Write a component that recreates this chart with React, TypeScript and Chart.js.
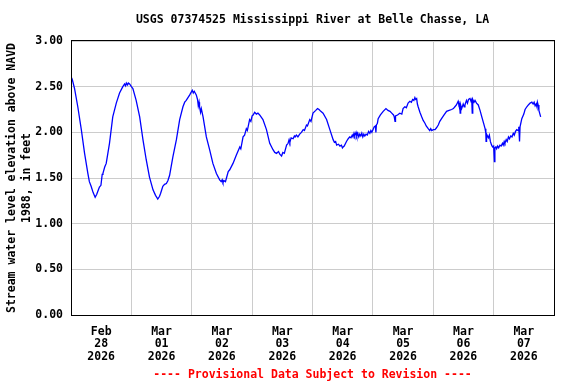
import React, { useEffect, useRef } from "react";
import { Chart, registerables } from "chart.js";

Chart.register(...registerables);

const chartTitle = "USGS 07374525 Mississippi River at Belle Chasse, LA";
const footerText = "---- Provisional Data Subject to Revision ----";
const yAxisTitle = ["Stream water level elevation above NAVD", "1988, in feet"];

const dayMonths = ["Feb", "Mar", "Mar", "Mar", "Mar", "Mar", "Mar", "Mar"];
const dayNumbers = ["28", "01", "02", "03", "04", "05", "06", "07"];
const dayYears = ["2026", "2026", "2026", "2026", "2026", "2026", "2026", "2026"];

// hours since Feb 28 2026 00:00
const hours = [
  0.0, 0.5, 1.4, 2.7, 4.1, 5.4, 6.7, 7.3, 8.0, 8.8, 9.6, 10.2, 10.6, 11.3, 11.9, 12.4, 12.7, 13.4, 14.0, 15.3,
  16.6, 18.0, 19.3, 20.6, 21.3, 21.7, 22.0, 22.5, 22.8, 23.3, 24.0, 24.6, 25.9, 27.3, 28.6, 29.9, 31.2, 32.6, 33.6, 34.5,
  35.2, 35.6, 36.5, 37.2, 37.9, 38.5, 39.2, 40.5, 41.9, 43.2, 44.5, 45.2, 45.8, 46.5, 47.2, 47.8, 48.2, 48.6, 49.0, 49.8,
  50.3, 50.6, 50.9, 51.1, 51.5, 51.8, 52.5, 53.8, 55.1, 56.4, 57.8, 59.1, 59.7, 60.1, 60.4, 60.9, 61.4, 61.8, 62.5, 63.1,
  64.4, 65.7, 67.1, 67.5, 68.4, 69.0, 69.7, 70.1, 71.0, 71.5, 72.0, 72.4, 73.0, 73.7, 74.3, 75.0, 76.3, 77.7, 79.0, 80.3,
  81.0, 81.7, 82.5, 83.0, 83.7, 84.2, 84.8, 85.7, 86.3, 86.7, 87.0, 87.5, 88.3, 88.8, 89.1, 89.6, 90.2, 90.9, 91.6, 92.3,
  92.8, 93.6, 94.0, 94.9, 95.4, 96.2, 97.3, 98.0, 98.6, 99.3, 100.2, 101.6, 102.9, 104.2, 104.7, 105.2, 105.6, 106.3, 106.9, 107.5,
  107.9, 108.2, 108.6, 109.5, 110.2, 110.8, 111.3, 111.8, 112.1, 112.5, 112.8, 113.3, 113.6, 114.0, 114.4, 114.8, 115.2, 115.6, 116.0, 116.4,
  116.8, 117.3, 117.8, 118.3, 118.8, 119.2, 119.6, 120.2, 120.5, 121.0, 121.2, 121.4, 121.8, 122.1, 123.0, 124.1, 125.2, 126.0, 126.8, 127.5,
  128.2, 128.5, 128.8, 129.0, 129.8, 130.7, 131.5, 132.0, 132.7, 133.3, 134.0, 134.7, 135.3, 135.8, 136.3, 136.7, 137.0, 137.4, 137.7, 138.0,
  138.7, 139.4, 140.0, 140.7, 141.2, 142.0, 142.6, 143.0, 143.4, 144.0, 144.7, 145.3, 146.0, 146.6, 147.3, 148.3, 149.3, 150.3, 151.3, 152.0,
  152.6, 153.2, 153.9, 154.2, 154.5, 154.7, 154.9, 155.3, 155.9, 156.3, 156.6, 157.2, 157.6, 158.0, 158.6, 159.0, 159.3, 159.5, 159.7, 160.2,
  160.6, 161.2, 161.9, 162.6, 163.3, 164.0, 164.6, 164.9, 165.0, 165.2, 165.9, 166.3, 166.7, 167.2, 167.6, 168.0, 168.3, 168.5, 168.9, 169.2,
  169.6, 170.0, 170.5, 171.0, 171.5, 171.8, 172.2, 172.5, 173.0, 173.4, 173.9, 174.3, 174.8, 175.3, 175.8, 176.2, 176.7, 177.2, 177.8, 178.0,
  178.3, 178.5, 179.2, 180.0, 180.5, 181.2, 181.8, 182.5, 183.2, 183.7, 184.1, 184.5, 184.9, 185.2, 185.4, 185.7, 186.0, 186.7,
];

// stage, feet above NAVD 1988
const stage = [
  2.61, 2.58, 2.48, 2.28, 2.03, 1.77, 1.55, 1.46, 1.41, 1.34, 1.29, 1.32, 1.35, 1.40, 1.42, 1.54, 1.55, 1.62, 1.66, 1.88,
  2.17, 2.32, 2.43, 2.50, 2.53, 2.51, 2.54, 2.52, 2.54, 2.53, 2.50, 2.48, 2.35, 2.17, 1.92, 1.70, 1.51, 1.37, 1.31, 1.27,
  1.30, 1.33, 1.41, 1.43, 1.44, 1.47, 1.53, 1.73, 1.92, 2.14, 2.28, 2.33, 2.35, 2.38, 2.41, 2.44, 2.46, 2.43, 2.45, 2.41,
  2.36, 2.29, 2.33, 2.28, 2.22, 2.26, 2.17, 1.95, 1.81, 1.66, 1.55, 1.48, 1.46, 1.48, 1.45, 1.47, 1.46, 1.50, 1.57, 1.59,
  1.66, 1.75, 1.84, 1.82, 1.95, 1.97, 2.04, 2.02, 2.14, 2.12, 2.18, 2.19, 2.22, 2.20, 2.21, 2.19, 2.14, 2.03, 1.88, 1.81,
  1.78, 1.77, 1.79, 1.76, 1.74, 1.78, 1.77, 1.86, 1.88, 1.92, 1.89, 1.94, 1.93, 1.96, 1.95, 1.97, 1.95, 1.98, 2.00, 2.03,
  2.02, 2.08, 2.07, 2.14, 2.12, 2.21, 2.24, 2.26, 2.25, 2.23, 2.21, 2.14, 2.03, 1.92, 1.89, 1.90, 1.86, 1.87, 1.85, 1.86,
  1.83, 1.84, 1.85, 1.90, 1.93, 1.95, 1.94, 1.97, 1.95, 1.99, 1.96, 2.00, 1.96, 1.99, 1.95, 1.98, 1.96, 1.99, 1.95, 1.98,
  1.96, 1.98, 1.97, 2.01, 1.99, 2.02, 2.00, 2.04, 2.06, 2.07, 2.00, 2.08, 2.10, 2.15, 2.19, 2.23, 2.26, 2.24, 2.23, 2.21,
  2.19, 2.17, 2.12, 2.18, 2.19, 2.21, 2.20, 2.26, 2.28, 2.27, 2.32, 2.34, 2.33, 2.36, 2.35, 2.38, 2.36, 2.37, 2.31, 2.28,
  2.22, 2.17, 2.13, 2.10, 2.07, 2.04, 2.02, 2.04, 2.02, 2.03, 2.03, 2.05, 2.08, 2.12, 2.15, 2.19, 2.23, 2.24, 2.25, 2.26,
  2.28, 2.30, 2.34, 2.30, 2.31, 2.21, 2.30, 2.26, 2.31, 2.28, 2.30, 2.35, 2.32, 2.36, 2.37, 2.34, 2.36, 2.21, 2.36, 2.33,
  2.35, 2.32, 2.30, 2.24, 2.17, 2.10, 2.04, 1.99, 1.90, 1.98, 1.94, 1.97, 1.90, 1.86, 1.84, 1.85, 1.68, 1.83, 1.84, 1.82,
  1.85, 1.83, 1.86, 1.85, 1.88, 1.86, 1.90, 1.88, 1.92, 1.90, 1.95, 1.93, 1.96, 1.95, 1.99, 1.97, 2.01, 2.03, 2.02, 2.06,
  1.90, 2.06, 2.15, 2.20, 2.25, 2.28, 2.30, 2.32, 2.33, 2.31, 2.33, 2.29, 2.31, 2.28, 2.33, 2.30, 2.24, 2.17,
];

const yTicks = [0, 0.5, 1, 1.5, 2, 2.5, 3];

const FONT_FAMILY = "'DejaVu Sans Mono', monospace";

export default function App() {
  const canvasRef = useRef<HTMLCanvasElement | null>(null);

  useEffect(() => {
    const canvas = canvasRef.current;
    if (!canvas) return;

    const textPlugin = {
      id: "usgsText",
      afterDraw(chart: any) {
        const { ctx, chartArea } = chart;
        const cx = (chartArea.left + chartArea.right) / 2;
        ctx.save();
        ctx.strokeStyle = "#000000";
        ctx.lineWidth = 1;
        ctx.strokeRect(
          Math.round(chartArea.left) + 0.5,
          Math.round(chartArea.top) - 0.5,
          Math.round(chartArea.right - chartArea.left),
          Math.round(chartArea.bottom - chartArea.top) + 1
        );
        ctx.font = `bold 11.5px ${FONT_FAMILY}`;
        ctx.textAlign = "center";
        ctx.textBaseline = "middle";
        ctx.fillStyle = "#000000";
        ctx.fillText(chartTitle, cx, 20.5);
        ctx.fillStyle = "#ff0000";
        ctx.fillText(footerText, cx, 375.5);
        ctx.restore();
      },
    };

    const chart = new Chart(canvas, {
      type: "line",
      data: {
        datasets: [
          {
            data: hours.map((h, i) => ({ x: h, y: stage[i] })),
            borderColor: "#0000ff",
            borderWidth: 1.3,
            pointRadius: 0,
            tension: 0,
            fill: false,
          },
        ],
      },
      options: {
        animation: false,
        responsive: false,
        events: [],
        layout: { padding: { top: 41, right: 22, left: 0, bottom: 0 } },
        plugins: {
          legend: { display: false },
          tooltip: { enabled: false },
          title: { display: false },
        },
        scales: {
          x: {
            type: "linear",
            min: 0,
            max: 192,
            afterBuildTicks(scale: any) {
              const t: any[] = [];
              for (let v = 12; v < 192; v += 12) t.push({ value: v });
              scale.ticks = t;
            },
            afterFit(scale: any) {
              scale.height = 69;
            },
            grid: {
              drawTicks: false,
              color: (c: any) =>
                c.tick && c.tick.value % 24 === 0 ? "#cccccc" : "rgba(0,0,0,0)",
              lineWidth: 1,
            },
            border: { display: false },
            ticks: {
              autoSkip: false,
              maxRotation: 0,
              padding: 10.5,
              color: "#000000",
              font: { family: FONT_FAMILY, size: 11.5, weight: "bold", lineHeight: 1.1 },
              callback: (value: any) => {
                const v = Number(value);
                if (v % 24 !== 12) return "";
                const i = Math.floor(v / 24);
                return [dayMonths[i], dayNumbers[i], dayYears[i]];
              },
            },
          },
          y: {
            min: 0,
            max: 3,
            afterBuildTicks(scale: any) {
              scale.ticks = yTicks.map((v) => ({ value: v }));
            },
            afterFit(scale: any) {
              scale.width = 71;
            },
            grid: { drawTicks: false, color: "#cccccc", lineWidth: 1 },
            border: { display: false },
            ticks: {
              padding: 8,
              color: "#000000",
              font: { family: FONT_FAMILY, size: 11.5, weight: "bold" },
              callback: (value: any) => Number(value).toFixed(2),
            },
            title: {
              display: true,
              text: yAxisTitle,
              color: "#000000",
              padding: { top: 5, bottom: 0 },
              font: { family: FONT_FAMILY, size: 11.5, weight: "bold", lineHeight: 1.3 },
            },
          },
        },
      },
      plugins: [textPlugin],
    } as any);

    return () => chart.destroy();
  }, []);

  return (
    <div style={{ position: "absolute", left: 0, top: 0, width: 576, height: 384, background: "#ffffff" }}>
      <canvas ref={canvasRef} width={576} height={384} />
    </div>
  );
}
